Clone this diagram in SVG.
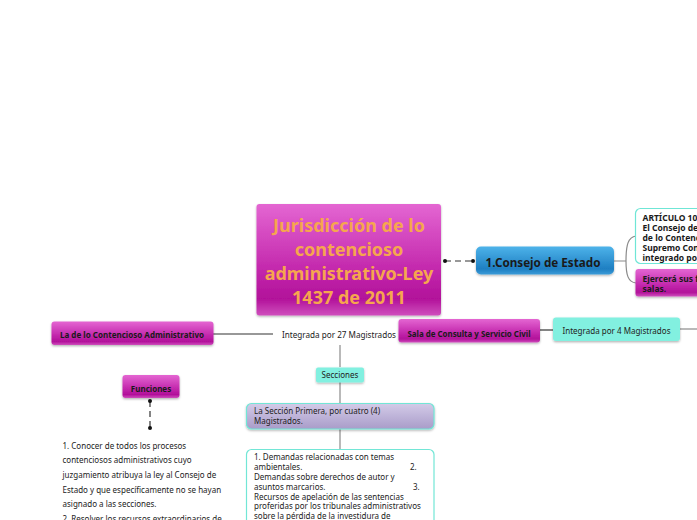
<svg xmlns="http://www.w3.org/2000/svg" width="697" height="520" viewBox="0 0 697 520">
<defs>
<linearGradient id="mag" x1="0" y1="0" x2="0" y2="1">
<stop offset="0" stop-color="#e466d2"/>
<stop offset="0.55" stop-color="#c52caf"/>
<stop offset="0.85" stop-color="#b2119a"/>
<stop offset="1" stop-color="#cf4ebd"/>
</linearGradient>
<linearGradient id="blue" x1="0" y1="0" x2="0" y2="1">
<stop offset="0" stop-color="#4db3ea"/>
<stop offset="0.8" stop-color="#1f7fc2"/>
<stop offset="1" stop-color="#3b9bd8"/>
</linearGradient>
<linearGradient id="lav" x1="0" y1="0" x2="0" y2="1">
<stop offset="0" stop-color="#d3cbe8"/>
<stop offset="1" stop-color="#a99cc9"/>
</linearGradient>
<filter id="sh" x="-10%" y="-20%" width="120%" height="150%">
<feDropShadow dx="0" dy="1.2" stdDeviation="1.2" flood-color="#000" flood-opacity="0.3"/>
</filter>
</defs>
<style>
.mag{fill:url(#mag);filter:url(#sh)}
.teal{fill:#82f0e0;filter:url(#sh)}
.tb{font-family:"Noto Sans","Open Sans",sans-serif;font-weight:bold;fill:#1a1a1a}
.t{font-family:"Noto Sans","Open Sans",sans-serif;fill:#222}
.ln{stroke:#8a8a8a;stroke-width:1.2;fill:none}
.dk{stroke:#333;stroke-width:1.2;fill:none}
</style>
<g id="connectors">
<line class="dk" x1="445" y1="261" x2="473" y2="261" stroke-dasharray="6,4"/>
<circle cx="445" cy="261" r="2" fill="#111"/>
<circle cx="473" cy="261" r="2" fill="#111"/>
<path class="ln" d="M614 261 H626 M626 261 C626 245 628 237 636 236 M626 261 C626 275 628 282 636 283"/>
<line class="dk" x1="213" y1="334" x2="273" y2="334"/>
<line class="ln" x1="340" y1="345" x2="340" y2="367"/>
<line class="ln" x1="340" y1="382" x2="340" y2="403"/>
<line class="ln" x1="340" y1="429" x2="340" y2="449"/>
<line class="dk" x1="540" y1="330" x2="553" y2="330"/>
<line class="ln" x1="680" y1="329" x2="697" y2="329"/>
<line class="dk" x1="150" y1="401" x2="150" y2="428" stroke-dasharray="6,4"/>
<circle cx="150" cy="401" r="2" fill="#111"/>
<circle cx="150" cy="428" r="2" fill="#111"/>
</g>
<g id="main">
<rect class="mag" x="256.5" y="204" width="184.5" height="111.5" rx="3"/>
<g font-family="'Noto Sans','Open Sans',sans-serif" font-weight="bold" font-size="18" fill="#f6a64e" text-anchor="middle">
<text x="349" y="231.5">Jurisdicción de lo</text>
<text x="349" y="255.5">contencioso</text>
<text x="349" y="280">administrativo-Ley</text>
<text x="349" y="304">1437 de 2011</text>
</g>
</g>
<g id="consejo">
<rect x="476" y="246.5" width="138" height="28" rx="5" fill="url(#blue)" filter="url(#sh)"/>
<text class="tb" x="485.5" y="266.5" font-size="13" textLength="115" lengthAdjust="spacingAndGlyphs">1.Consejo de Estado</text>
</g>
<g id="articulo">
<rect x="635.5" y="208.5" width="80" height="55" rx="5" fill="#fff" stroke="#6fe6d6" stroke-width="1.2"/>
<g class="tb" font-size="8.5">
<text x="642.5" y="221">ARTÍCULO 107.</text>
<text x="642.5" y="231">El Consejo de Estado es el Tribunal Supremo</text>
<text x="642.5" y="241">de lo Contencioso Administrativo y Cuerpo</text>
<text x="642.5" y="251">Supremo Consultivo del Gobierno. Estará</text>
<text x="642.5" y="260.5">integrado por treinta y un (31) magistrados.</text>
</g>
</g>
<g id="salas">
<rect class="mag" x="635.5" y="269" width="80" height="27.5" rx="3"/>
<g class="tb" font-size="8.5">
<text x="642.5" y="282">Ejercerá sus funciones por medio de tres (3)</text>
<text x="642.5" y="292">salas.</text>
</g>
</g>
<g id="contencioso">
<rect class="mag" x="51.5" y="321.5" width="162" height="23.5" rx="3"/>
<text class="tb" x="60" y="338" font-size="8" textLength="144" lengthAdjust="spacingAndGlyphs">La de lo Contencioso Administrativo</text>
</g>
<g id="integrada27">
<text class="t" x="282" y="338" font-size="8.5" fill="#333" textLength="114" lengthAdjust="spacingAndGlyphs">Integrada por 27 Magistrados</text>
</g>
<g id="sala-consulta">
<rect class="mag" x="398.5" y="319" width="141.5" height="23.5" rx="3"/>
<text class="tb" x="407.5" y="337" font-size="8" textLength="123" lengthAdjust="spacingAndGlyphs">Sala de Consulta y Servicio Civil</text>
</g>
<g id="integrada4">
<rect class="teal" x="553" y="317.5" width="127" height="23.5" rx="3"/>
<text class="t" x="562.5" y="333.5" font-size="8.5" fill="#2a4a48" textLength="108" lengthAdjust="spacingAndGlyphs">Integrada por 4 Magistrados</text>
</g>
<g id="secciones">
<rect class="teal" x="316" y="367.5" width="48" height="15" rx="2"/>
<text class="t" x="340" y="378" font-size="8" fill="#2a4a48" text-anchor="middle">Secciones</text>
</g>
<g id="funciones">
<rect class="mag" x="122.5" y="375" width="57" height="23" rx="3"/>
<text class="tb" x="151" y="392" font-size="8" text-anchor="middle">Funciones</text>
</g>
<g id="funciones-texto">
<g class="t" font-size="8">
<text x="62.5" y="448.5">1. Conocer de todos los procesos</text>
<text x="62.5" y="463.2">contenciosos administrativos cuyo</text>
<text x="62.5" y="477.9">juzgamiento atribuya la ley al Consejo de</text>
<text x="62.5" y="492.6">Estado y que específicamente no se hayan</text>
<text x="62.5" y="507.3">asignado a las secciones.</text>
<text x="62.5" y="522">2. Resolver los recursos extraordinarios de</text>
</g>
</g>
<g id="seccion-primera">
<rect x="246.5" y="403.5" width="187.5" height="25.5" rx="5" fill="url(#lav)" stroke="#72e6d6" stroke-width="1.2" filter="url(#sh)"/>
<g class="t" font-size="8">
<text x="254" y="413.5">La Sección Primera, por cuatro (4)</text>
<text x="254" y="424">Magistrados.</text>
</g>
</g>
<g id="seccion-primera-texto">
<rect x="246.5" y="449.5" width="187.5" height="80" rx="5" fill="#fff" stroke="#72e6d6" stroke-width="1.2"/>
<g class="t" font-size="8">
<text x="254" y="459.5">1. Demandas relacionadas con temas</text>
<text x="254" y="469.5">ambientales.</text>
<text x="410" y="469.5">2.</text>
<text x="254" y="479.5">Demandas sobre derechos de autor y</text>
<text x="254" y="489.5">asuntos marcarios.</text>
<text x="413" y="489.5">3.</text>
<text x="254" y="499.5">Recursos de apelación de las sentencias</text>
<text x="254" y="509">proferidas por los tribunales administrativos</text>
<text x="254" y="518.5">sobre la pérdida de la investidura de</text>
</g>
</g>
</svg>
